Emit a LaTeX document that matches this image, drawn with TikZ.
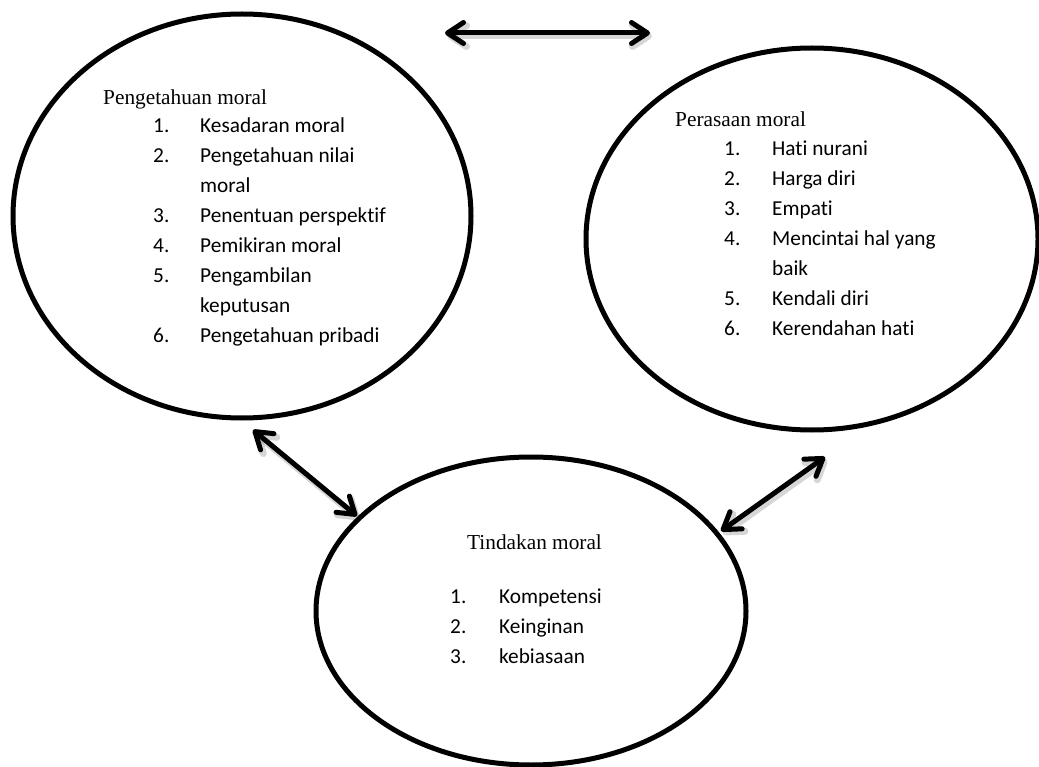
\documentclass[tikz,border=0pt]{standalone}
\usepackage{fontspec}
\setmainfont{Liberation Serif}
\newfontfamily\listfont[Ligatures=NoCommon]{Carlito}
\usetikzlibrary{arrows.meta,shapes.geometric}

\tikzset{
  % the three components of moral character
  part/.style={ellipse, draw=black, line width=5pt, inner sep=0pt, fill=white},
  heading/.style={anchor=base west, inner sep=0pt, font=\fontsize{21.3}{30}\selectfont},
  itemlist/.style={anchor=base west, inner sep=0pt, font=\listfont\fontsize{21.3}{30}\selectfont},
  % two-way relations between the components
  barb/.tip={Straight Barb[round, length=16pt, width=21pt]},
  link/.style={line width=5pt, barb-barb},
  linkshadow/.style={line width=7pt, barb-barb, draw=black, opacity=0.16,
    transform canvas={xshift=2pt, yshift=-3pt}},
}

\begin{document}
\begin{tikzpicture}[x=1pt, y=-1pt]
\useasboundingbox[fill=white] (0,0) rectangle (1039,767);

% components
\node[part, minimum width=458pt, minimum height=404pt] (know) at (242,216) {};
\node[part, minimum width=452pt, minimum height=382pt] (feel) at (812,239) {};
\node[part, minimum width=430pt, minimum height=308pt] (act)  at (531,611) {};

% moral knowing
\node[heading] (knowhead) at (103,105) {Pengetahuan moral};
\node[itemlist] (knowlist) at (153,133) {\begin{tabular}[t]{@{}p{47pt}@{}l@{}}
1.&Kesadaran moral\\
2.&Pengetahuan nilai\\
  &moral\\
3.&Penentuan perspektif\\
4.&Pemikiran moral\\
5.&Pengambilan\\
  &keputusan\\
6.&Pengetahuan pribadi
\end{tabular}};

% moral feeling
\node[heading] (feelhead) at (675,127) {Perasaan moral};
\node[itemlist] (feellist) at (724,156) {\begin{tabular}[t]{@{}p{48pt}@{}l@{}}
1.&Hati nurani\\
2.&Harga diri\\
3.&Empati\\
4.&Mencintai hal yang\\
  &baik\\
5.&Kendali diri\\
6.&Kerendahan hati
\end{tabular}};

% moral action
\node[heading] (acthead) at (467,549) {Tindakan moral};
\node[itemlist] (actlist) at (450,603) {\begin{tabular}[t]{@{}p{49pt}@{}l@{}}
1.&Kompetensi\\
2.&Keinginan\\
3.&kebiasaan
\end{tabular}};

% arrow ends
\coordinate (topL) at (445,33);
\coordinate (topR) at (650,33);
\coordinate (leftU) at (253,430);
\coordinate (leftD) at (357,516);
\coordinate (rightU) at (825,457);
\coordinate (rightD) at (721,531);

% shadows, then arrows
\draw[linkshadow] (topL) -- (topR);
\draw[linkshadow] (leftU) -- (leftD);
\draw[linkshadow] (rightU) -- (rightD);
\draw[link] (topL) -- (topR);
\draw[link] (leftU) -- (leftD);
\draw[link] (rightU) -- (rightD);
\end{tikzpicture}
\end{document}
